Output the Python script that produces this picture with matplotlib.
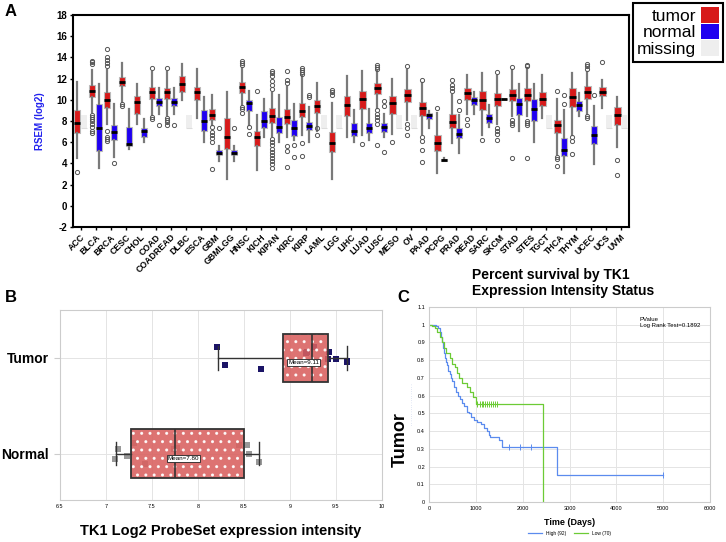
import matplotlib
matplotlib.use('Agg')
import matplotlib.pyplot as plt
from matplotlib.patches import Patch

plt.rcParams['font.family'] = ['Liberation Sans', 'DejaVu Sans']

# ---------------- panel A data (RSEM log2) ----------------
cancers = ['ACC', 'BLCA', 'BRCA', 'CESC', 'CHOL', 'COAD', 'COADREAD', 'DLBC', 'ESCA', 'GBM',
           'GBMLGG', 'HNSC', 'KICH', 'KIPAN', 'KIRC', 'KIRP', 'LAML', 'LGG', 'LIHC', 'LUAD',
           'LUSC', 'MESO', 'OV', 'PAAD', 'PCPG', 'PRAD', 'READ', 'SARC', 'SKCM', 'STAD',
           'STES', 'TGCT', 'THCA', 'THYM', 'UCEC', 'UCS', 'UVM']

# tumor: whisker low, q1, median, q3, whisker high
tumor_box = [
    (4.5, 6.9, 7.8, 9.05, 11.7), (8.85, 10.3, 10.85, 11.35, 12.8), (7.7, 9.25, 9.95, 10.7, 12.8),
    (9.8, 11.3, 11.7, 12.15, 13.5), (7.75, 8.7, 9.8, 10.4, 11.5), (8.55, 10.1, 10.7, 11.2, 12.65),
    (8.55, 10.1, 10.7, 11.1, 12.6), (10.0, 10.75, 11.45, 12.2, 13.4), (8.25, 10.0, 10.7, 11.2, 12.95),
    (7.6, 8.1, 8.6, 9.1, 10.45), (2.5, 5.4, 6.5, 8.25, 10.75), (9.5, 10.66, 11.25, 11.7, 13.0),
    (3.4, 5.65, 6.45, 7.1, 8.55), (6.6, 7.85, 8.5, 9.2, 10.6), (6.5, 7.75, 8.35, 9.1, 11.2),
    (6.65, 8.35, 8.95, 9.7, 12.2), (7.1, 8.8, 9.4, 9.95, 11.6), (2.55, 5.1, 5.95, 7.0, 9.7),
    (6.5, 8.5, 9.55, 10.4, 12.25), (6.65, 9.1, 10.05, 10.8, 12.75), (9.2, 10.55, 11.1, 11.6, 12.7),
    (6.8, 8.7, 9.7, 10.35, 11.95), (8.1, 9.75, 10.45, 11.05, 12.8), (6.8, 8.5, 9.2, 9.8, 11.6),
    (3.05, 5.2, 5.9, 6.7, 8.8), (5.95, 7.35, 7.92, 8.64, 10.45), (8.7, 10.0, 10.63, 11.15, 12.3),
    (6.66, 9.02, 9.97, 10.8, 12.55), (7.76, 9.4, 10.03, 10.6, 12.2), (8.48, 9.87, 10.44, 10.98, 12.8),
    (8.48, 9.87, 10.5, 11.07, 13.0), (8.33, 9.4, 10.06, 10.76, 12.3), (4.86, 6.88, 7.6, 8.14, 10.06),
    (6.66, 9.33, 10.28, 11.07, 12.55), (8.7, 10.1, 10.76, 11.3, 12.6), (9.18, 10.34, 10.76, 11.17, 11.9),
    (5.56, 7.6, 8.6, 9.33, 10.28)]
tumor_out = [
    [3.15], [13.7, 13.55, 13.4, 8.6, 8.4, 8.2, 8.0, 7.7, 7.4, 7.1, 6.9],
    [13.2, 13.5, 13.8, 14.0, 14.75, 7.1, 6.5, 6.3, 6.1], [9.6, 9.4], [], [13.0, 8.35, 8.2],
    [13.0, 8.3, 8.1, 7.9, 7.6], [], [], [7.4, 7.0, 6.65, 6.35, 6.05, 3.5], [],
    [13.7, 13.5, 13.3, 9.3, 9.1, 8.8], [10.85],
    [11.0, 11.4, 11.8, 12.2, 12.5, 12.75, 6.3, 6.0, 5.7, 5.4, 5.1, 4.8, 4.5, 4.2, 3.9, 3.6],
    [12.75, 11.9, 11.6, 5.6, 5.2, 3.7], [12.4, 12.6, 12.8, 13.0, 5.9, 4.7], [7.3, 6.7],
    [10.9, 10.7, 10.5], [], [5.8], [13.3, 13.1, 12.9, 9.0, 8.7, 8.4, 8.1, 7.7, 5.7], [6.0],
    [13.2, 7.75, 7.3, 6.65], [11.9, 6.5, 6.1, 5.3, 4.1], [9.25], [10.85, 11.1, 11.4, 11.85],
    [8.15, 7.6], [6.25], [12.6, 7.3, 7.1, 6.8, 6.2], [13.1, 8.1, 7.8, 7.6, 4.55],
    [13.3, 13.2, 8.0, 7.8, 7.6, 4.55], [], [10.85, 4.6, 4.4, 3.73], [6.5, 6.1, 4.86],
    [13.4, 13.2, 12.9, 8.45, 8.3], [13.56], [4.36, 2.94]]

# normal: None = missing
normal_box = [
    None, (3.55, 5.2, 7.3, 9.65, 11.5), (4.6, 6.2, 7.0, 7.6, 9.6), (5.4, 5.6, 5.85, 7.45, 9.1),
    (6.0, 6.5, 7.1, 7.3, 8.2), (8.7, 9.4, 9.8, 10.2, 11.1), (8.7, 9.4, 9.8, 10.2, 11.1), None,
    (6.0, 7.1, 8.0, 9.0, 10.3), (4.2, 4.77, 5.0, 5.24, 5.6), (4.2, 4.77, 5.0, 5.24, 5.6),
    (7.6, 8.9, 9.7, 9.95, 10.85), (6.5, 7.3, 8.0, 8.95, 10.05), (6.0, 6.9, 7.45, 8.35, 10.5),
    (6.2, 6.6, 7.3, 8.1, 9.65), (6.05, 7.15, 7.55, 7.9, 9.3), None, None,
    (6.0, 6.55, 7.1, 7.85, 9.0), (6.2, 6.9, 7.3, 7.85, 9.1), (6.5, 7.0, 7.4, 7.85, 8.7), None, None,
    (7.35, 8.2, 8.55, 8.8, 8.9), (4.2, 4.25, 4.35, 4.45, 4.5), (5.0, 6.35, 6.8, 7.3, 8.6),
    (8.7, 9.5, 9.97, 10.28, 10.76), (7.44, 7.83, 8.3, 8.7, 9.5), (10.03, 10.03, 10.03, 10.03, 10.03),
    (7.07, 8.55, 9.65, 10.2, 11.48), (6.03, 8.0, 9.1, 10.03, 11.48), None,
    (3.13, 4.67, 5.24, 6.44, 9.02), (8.45, 8.96, 9.5, 9.9, 10.6), (3.9, 5.87, 6.66, 7.5, 9.4),
    None, None]
normal_out = [
    [], [], [4.0], [], [], [7.6], [7.6], [], [], [7.35], [7.35], [7.4, 6.8], [], [],
    [5.7, 4.6], [10.5, 10.3], [], [], [], [], [9.9, 9.4, 5.1], [], [], [], [], [9.9, 9.05],
    [], [], [], [], [], [], [10.5, 9.65], [], [10.44], [], []]
missing_range = (7.35, 8.6)

# ---------------- panel B data ----------------
b_groups = ['Normal', 'Tumor']
b_box = [(7.11, 7.27, 7.75, 8.5, 8.66), (8.22, 8.92, 9.24, 9.41, 9.62)]
b_means = [7.80, 9.11]
tumor_pts_x = [8.205, 8.29, 8.68, 9.17, 9.19, 9.26, 9.42, 9.41, 9.5, 9.62, 9.62]
tumor_pts_dy = [0.115, -0.076, -0.115, 0.05, 0.06, 0.115, 0.06, -0.01, -0.007, -0.035, -0.045]
normal_pts_x = [7.13, 7.1, 7.23, 7.3, 7.42, 7.74, 7.77, 7.81, 8.45, 8.53, 8.55, 8.66]
normal_pts_dy = [0.05, -0.05, -0.017, 0.118, -0.11, 0.05, 0.066, 0.0, 0.09, 0.094, 0.0, -0.083]

# ---------------- panel C data (Kaplan-Meier) ----------------
high_t = [0, 140, 190, 230, 260, 280, 300, 320, 340, 360, 380, 410, 440, 470, 500, 540, 580, 620,
          660, 700, 750, 800, 850, 900, 960, 1020, 1100, 1180, 1230, 1270, 1300, 1500, 1550, 2730, 5000]
high_s = [1.0, 0.99, 0.98, 0.96, 0.93, 0.90, 0.87, 0.84, 0.81, 0.79, 0.77, 0.74, 0.72, 0.70, 0.68,
          0.65, 0.62, 0.60, 0.58, 0.56, 0.54, 0.51, 0.50, 0.48, 0.46, 0.45, 0.44, 0.42, 0.40, 0.38,
          0.365, 0.35, 0.31, 0.155, 0.155]
low_t = [0, 60, 120, 180, 230, 270, 310, 370, 440, 500, 550, 600, 640, 710, 810, 880, 940, 1000, 2430]
low_s = [1.0, 0.99, 0.98, 0.96, 0.93, 0.90, 0.87, 0.84, 0.81, 0.78, 0.76, 0.73, 0.70, 0.67, 0.65,
         0.62, 0.59, 0.55, 0.0]
high_cens_t = [1700, 1950, 2180, 5000]
high_cens_s = [0.31, 0.31, 0.31, 0.155]
low_cens_t = [1020, 1080, 1120, 1160, 1200, 1240, 1280, 1320, 1360, 1400, 1450]
low_cens_s = [0.55] * 11

RED = '#D71A1A'
BLUE = '#1F00F0'
GRAY = '#EEEEEE'


def to_stats(box, fl):
    lo, q1, med, q3, hi = box
    return dict(whislo=lo, q1=q1, med=med, q3=q3, whishi=hi, fliers=fl)


fig = plt.figure(figsize=(7.26, 5.42), dpi=100)

# ================= A =================
axA = fig.add_axes([0.1006, 0.5812, 0.7658, 0.3911])
n = len(cancers)
common = dict(widths=0.42, patch_artist=True, showcaps=False,
              medianprops=dict(color='black', lw=2),
              whiskerprops=dict(color='#7A7A7A', lw=1.6),
              flierprops=dict(marker='o', markersize=3, markerfacecolor='none',
                              markeredgecolor='#555555', markeredgewidth=0.7))

axA.bxp([to_stats(b, f) for b, f in zip(tumor_box, tumor_out)],
        positions=[i - 0.22 for i in range(n)],
        boxprops=dict(facecolor=RED, edgecolor='#BBBBBB', lw=0.8), **common)

norm_idx = [i for i in range(n) if normal_box[i] is not None]
axA.bxp([to_stats(normal_box[i], normal_out[i]) for i in norm_idx],
        positions=[i + 0.22 for i in norm_idx],
        boxprops=dict(facecolor=BLUE, edgecolor='#BBBBBB', lw=0.8), **common)

miss_idx = [i for i in range(n) if normal_box[i] is None]
lo_m, hi_m = missing_range
axA.bxp([dict(whislo=lo_m, q1=lo_m, med=lo_m, q3=hi_m, whishi=hi_m, fliers=[]) for _ in miss_idx],
        positions=[i + 0.22 for i in miss_idx], widths=0.42, patch_artist=True,
        showcaps=False, showfliers=False,
        boxprops=dict(facecolor=GRAY, edgecolor='none'),
        medianprops=dict(color='#DDDDDD', lw=0.8),
        whiskerprops=dict(lw=0))

axA.set_xlim(-0.5, 36.55)
axA.set_ylim(-2, 18)
axA.set_xticks(range(n))
axA.set_xticklabels(cancers, rotation=45, ha='right', rotation_mode='anchor',
                    fontsize=6.3, fontweight='bold')
axA.set_yticks(range(-2, 19, 2))
axA.set_yticklabels([str(v) for v in range(-2, 19, 2)], fontsize=7, fontweight='bold')
axA.tick_params(length=2.5, width=1, pad=1.5)
for s in axA.spines.values():
    s.set_linewidth(1.5)
axA.set_ylabel('RSEM (log2)', color='#2222EE', fontsize=7, fontweight='bold', labelpad=8)

fig.legend(handles=[Patch(facecolor=RED, label='tumor'),
                    Patch(facecolor=BLUE, label='normal'),
                    Patch(facecolor=GRAY, label='missing')],
           loc='upper right', bbox_to_anchor=(0.996, 0.995), markerfirst=False,
           fancybox=False, edgecolor='black', framealpha=1, fontsize=12.5,
           handlelength=1.0, handleheight=1.0, labelspacing=0.0, borderpad=0.25,
           handletextpad=0.3, borderaxespad=0).get_frame().set_linewidth(1.5)

# ================= B =================
axB = fig.add_axes([0.0826, 0.0775, 0.4435, 0.3505])
pts_kw = dict(marker='s', s=14, zorder=2, linewidths=0)
axB.scatter(tumor_pts_x, [1 + d for d in tumor_pts_dy], color='#1B1466', **pts_kw)
axB.scatter(normal_pts_x, [0 + d for d in normal_pts_dy], color='#999999', **pts_kw)

b_stats = [to_stats(b, []) for b in b_box]
axB.bxp(b_stats, positions=[0, 1], widths=0.51, orientation='horizontal', patch_artist=True,
        showfliers=False, capwidths=0.24,
        boxprops=dict(facecolor='#D9605F', edgecolor='white', hatch='..', lw=0, alpha=0.88),
        medianprops=dict(color='#333333', lw=1.2), whiskerprops=dict(color='#333333', lw=1),
        capprops=dict(color='#333333', lw=1), zorder=3)
axB.bxp(b_stats, positions=[0, 1], widths=0.51, orientation='horizontal', patch_artist=True,
        showfliers=False, showcaps=False,
        boxprops=dict(facecolor='none', edgecolor='#333333', lw=1.3),
        medianprops=dict(lw=0), whiskerprops=dict(lw=0), zorder=4)
for yb, m, mx in zip([0, 1], b_means, [7.84, 9.15]):
    axB.text(mx, yb - 0.045, 'Mean=%.2f' % m, fontsize=4.5, ha='center', va='center', zorder=5,
             bbox=dict(boxstyle='square,pad=0.15', facecolor='white', edgecolor='#222222', lw=0.6))

axB.set_xlim(6.5, 10)
axB.set_ylim(-0.48, 1.5)
xt = [6.5 + 0.5 * k for k in range(8)]
axB.set_xticks(xt)
axB.set_xticklabels(['%g' % v for v in xt], fontsize=4)
axB.set_yticks([0, 1])
axB.set_yticklabels(b_groups, fontsize=10, fontweight='bold')
axB.tick_params(axis='y', length=4, color='#CCCCCC', pad=4)
axB.tick_params(axis='x', length=0, pad=3)
axB.grid(True, color='#E4E4E4', lw=0.7)
axB.set_axisbelow(True)
for s in axB.spines.values():
    s.set_color('#CCCCCC')
    s.set_linewidth(0.8)
axB.set_xlabel('TK1 Log2 ProbeSet expression intensity', fontsize=10.5, fontweight='bold',
               labelpad=11)

# ================= C =================
axC = fig.add_axes([0.591, 0.0738, 0.387, 0.3598])
axC.step(high_t, high_s, where='post', color='#5B8BEE', lw=0.9, label='High (92)')
axC.step(low_t, low_s, where='post', color='#6CCB35', lw=0.9, label='Low (70)')
axC.plot(high_cens_t, high_cens_s, ls='none', marker='|', ms=4, mew=0.7, color='#5B8BEE')
axC.plot(low_cens_t, low_cens_s, ls='none', marker='|', ms=4, mew=0.7, color='#6CCB35')
axC.set_xlim(0, 6000)
axC.set_ylim(0, 1.1)
axC.set_xticks(range(0, 6001, 1000))
axC.set_xticklabels([str(v) for v in range(0, 6001, 1000)], fontsize=4)
yt = [round(0.1 * k, 1) for k in range(12)]
axC.set_yticks(yt)
axC.set_yticklabels(['%g' % v for v in yt], fontsize=4)
axC.tick_params(length=0, pad=3)
axC.grid(True, color='#E4E4E4', lw=0.7)
axC.set_axisbelow(True)
for s in axC.spines.values():
    s.set_color('#CCCCCC')
    s.set_linewidth(0.8)
axC.text(4500, 1.045, 'PValue\nLog Rank Test=0.1892', fontsize=4.3, va='top', ha='left')
axC.set_xlabel('Time (Days)', fontsize=6.5, fontweight='bold', labelpad=5)
axC.set_ylabel('. . . . . . . . . . . . . . . . . . .', fontsize=3, color='#4466BB', labelpad=2)
axC.legend(loc='upper center', bbox_to_anchor=(0.5, -0.125), ncol=2, fontsize=3.5,
           frameon=False, handlelength=3, columnspacing=1.5)

fig.text(472 / 726, 1 - 268 / 542, 'Percent survival by TK1\nExpression Intensity Status',
         fontsize=10, fontweight='bold', ha='left', va='top', linespacing=1.15)
fig.text(400 / 726, 1 - 440 / 542, 'Tumor', rotation=90, fontsize=13, fontweight='bold',
         ha='center', va='center')

# panel letters
fig.text(5 / 726, 1 - 11 / 542, 'A', fontsize=12, fontweight='bold', va='center')
fig.text(5 / 726, 1 - 297 / 542, 'B', fontsize=12, fontweight='bold', va='center')
fig.text(397 / 726, 1 - 298 / 542, 'C', fontsize=12, fontweight='bold', va='center')

fig.savefig('out.png', dpi=100)
